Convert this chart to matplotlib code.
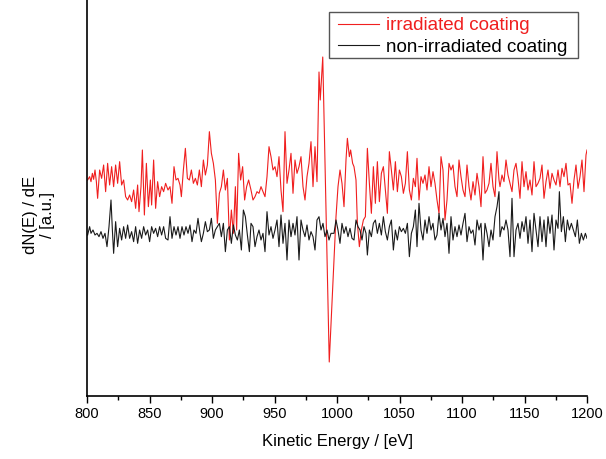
import matplotlib
matplotlib.use("Agg")
import matplotlib.pyplot as plt
from matplotlib.ticker import MultipleLocator
from matplotlib.patches import Rectangle

plt.rcParams['font.family'] = ['Liberation Sans', 'DejaVu Sans']

# ---- data (kinetic energy in eV, intensity in arbitrary units) ----
red_E = [800.5, 802.1, 803.2, 804.3, 805.3, 806.4, 807.5, 808.5, 810.1, 811.7, 813.3, 814.9, 816.5, 818.1, 819.7,
         821.3, 822.9, 824.5, 826.1, 827.7, 829.3, 830.9, 832.5, 834.1, 835.7, 837.3, 838.9, 840.5, 841.6, 843.2,
         844.3, 845.9, 847.5, 849.1, 850.7, 851.7, 853.3, 854.9, 856.5, 858.1, 859.7, 861.3, 862.9,
         864.8, 866.4, 868.0, 869.6, 871.2, 872.8, 874.4, 875.5, 877.1, 878.7, 880.3, 881.9, 883.5, 885.1, 886.7,
         888.3, 889.9, 891.5, 893.1, 894.7, 896.3, 897.9, 899.5, 901.1, 902.7, 904.3, 905.9, 907.5, 909.1, 910.7,
         912.3, 913.9, 915.5, 917.1, 918.7, 919.7, 921.3, 922.9, 924.5, 926.1, 927.7, 929.3,
         931.2, 932.8, 934.4, 936.0, 937.6, 939.2, 940.8, 942.4, 944.0, 945.6, 947.2, 948.8, 950.4, 952.0, 953.6,
         955.2, 956.8, 958.4, 960.0, 961.6, 963.2, 964.8, 966.4, 968.0, 969.6, 971.2, 972.8, 974.4, 976.0, 977.6,
         979.2, 980.8, 982.4, 984.0,
         985.6, 986.6, 988.6, 993.8,
         999.2, 1000.8, 1002.4, 1004.0, 1005.6, 1007.2, 1008.3, 1009.9, 1010.9, 1012.5, 1013.6, 1015.2, 1016.3,
         1017.9, 1019.5, 1021.1, 1022.7, 1024.3, 1025.9, 1027.5, 1029.1, 1030.7, 1032.3, 1033.9, 1035.5, 1037.1,
         1038.7, 1040.3, 1041.9, 1043.5, 1045.1, 1046.7, 1048.3, 1049.9, 1051.5, 1053.1, 1054.7, 1056.3, 1057.9,
         1059.5, 1061.1, 1062.7,
         1064.0, 1065.6, 1067.2, 1068.8, 1070.4, 1072.0, 1073.6, 1075.2, 1076.8, 1078.4, 1080.0, 1081.6, 1083.2,
         1084.8, 1086.4, 1088.0, 1089.6, 1091.2, 1092.8, 1094.4, 1096.0, 1097.6, 1099.2, 1100.8, 1102.4, 1104.0,
         1105.6, 1107.2, 1108.8, 1110.4, 1112.0, 1113.6, 1115.2, 1116.8, 1118.4, 1120.0, 1121.6, 1123.2, 1124.8,
         1126.4, 1128.0, 1129.6,
         1130.4, 1132.0, 1133.6, 1135.2, 1136.8, 1138.4, 1140.0, 1141.6, 1143.2, 1144.8, 1146.4, 1148.0, 1149.6,
         1151.2, 1152.8, 1154.4, 1156.0, 1157.6, 1159.2, 1160.8, 1162.4, 1164.0, 1165.6, 1167.2, 1168.8, 1170.4,
         1172.0, 1173.6, 1175.2, 1176.8, 1178.4, 1180.0, 1181.6, 1183.2, 1184.8, 1186.4, 1188.0, 1189.6, 1191.2,
         1192.8, 1194.4, 1196.0, 1197.6, 1199.2, 1200.0]
red_I = [648, 658, 643, 668, 650, 678, 643, 593, 678, 653, 693, 613, 698, 633, 688,
         628, 693, 638, 703, 633, 648, 598, 588, 603, 583, 618, 563, 633, 553, 628,
         738, 543, 698, 568, 648, 573, 708, 563, 643, 598, 628, 613, 638,
         618, 628, 578, 688, 648, 653, 633, 598, 678, 743, 653, 648, 678, 638, 653,
         633, 678, 628, 708, 663, 693, 793, 728, 698, 648, 518, 608, 628, 678, 618,
         653, 468, 558, 488, 628, 498, 728, 648, 688, 588, 628, 648,
         618, 588, 598, 613, 608, 628, 613, 598, 658, 748, 718, 678, 688, 658, 718,
         618, 553, 793, 638, 678, 728, 608, 708, 668, 688, 718, 628, 588, 658, 698,
         763, 628, 748, 643,
         972, 888, 1017, 102,
         538, 628, 678, 638, 568, 708, 773, 718, 738, 698, 688, 648, 518,
         448, 498, 528, 538, 743, 638, 548, 688, 578, 703, 583, 668, 688,
         618, 548, 733, 678, 618, 703, 613, 678, 658, 608, 638, 733, 618,
         588, 653, 628,
         713, 588, 658, 638, 663, 618, 688, 628, 673, 638, 588, 548, 718,
         678, 528, 588, 698, 678, 693, 628, 598, 708, 658, 618, 598, 693,
         628, 588, 643, 603, 668, 628, 568, 718, 608, 618, 638, 698, 628,
         598, 733, 648,
         628, 663, 643, 708, 663, 638, 613, 678, 698, 653, 593, 703, 628,
         673, 618, 648, 603, 703, 628, 638, 653, 693, 593, 643, 678, 623,
         668, 648, 633, 678, 628, 683, 658, 698, 633, 638, 578, 648, 693,
         623, 658, 708, 613, 723, 738]

black_E = [800.5, 802.1, 803.2, 804.8, 806.4, 808.0, 809.6, 811.2, 812.8, 814.4, 816.0, 817.6, 819.2, 820.3,
           821.3, 822.9, 824.5, 826.1, 827.7, 829.3, 830.9, 832.5, 834.1, 835.7, 837.3, 838.9, 840.5, 842.1,
           843.7, 845.3, 846.9, 848.5, 850.1, 851.7, 853.3, 854.9, 856.5, 858.1, 859.7, 861.3, 862.9,
           864.8, 866.4, 868.0, 869.6, 871.2, 872.8, 874.4, 876.0, 877.6, 879.2, 880.8, 882.4, 884.0, 885.6,
           887.2, 888.8, 890.4, 891.5, 893.1, 894.7, 896.3, 897.9, 899.5, 901.1, 902.7, 904.3, 905.9, 907.5,
           909.1, 910.7, 912.3, 913.9, 915.5, 917.1, 918.7, 920.3, 921.9, 923.5, 925.1, 926.7, 928.3, 929.9,
           931.2, 932.8, 934.4, 936.0, 937.6, 939.2, 940.8, 942.4, 944.0, 945.6, 947.2, 948.8, 950.4, 952.0,
           953.6, 955.2, 956.8, 958.4, 960.0, 961.6, 963.2, 964.8, 966.4, 968.0, 969.6, 971.2, 972.8, 974.4,
           976.0, 977.6, 979.2, 980.8, 982.4, 984.0, 985.6, 987.2, 988.8, 990.4, 992.0, 993.6, 995.2,
           997.6, 999.2, 1000.8, 1002.4, 1004.0, 1005.6, 1007.2, 1008.8, 1010.4, 1012.0, 1013.6, 1015.2, 1016.8,
           1018.4, 1020.0, 1021.6, 1023.2, 1024.3, 1025.9, 1027.5, 1029.1, 1030.7, 1032.3, 1033.9, 1035.5,
           1037.1, 1038.7, 1040.3, 1041.9, 1043.5, 1045.1, 1046.7, 1048.3, 1049.9, 1051.5, 1053.1, 1054.7,
           1056.3, 1057.9, 1059.5, 1061.1, 1062.7,
           1064.0, 1065.6, 1067.2, 1068.8, 1070.4, 1072.0, 1073.6, 1075.2, 1076.8, 1078.4, 1080.0, 1081.6,
           1083.2, 1084.8, 1086.4, 1088.0, 1089.6, 1091.2, 1092.8, 1094.4, 1096.0, 1097.6, 1099.2, 1100.8,
           1102.4, 1104.0, 1105.6, 1107.2, 1108.8, 1110.4, 1112.0, 1113.6, 1115.2, 1116.8, 1118.4, 1120.0,
           1121.6, 1123.2, 1124.8, 1126.4, 1128.0, 1129.6,
           1130.4, 1132.0, 1133.6, 1135.2, 1136.8, 1138.4, 1140.0, 1141.6, 1143.2, 1144.8, 1146.4, 1148.0,
           1149.6, 1151.2, 1152.8, 1154.4, 1156.0, 1157.6, 1159.2, 1160.8, 1162.4, 1164.0, 1165.6, 1167.2,
           1168.8, 1170.4, 1172.0, 1173.6, 1175.2, 1176.8, 1177.9, 1179.5, 1181.1, 1182.7, 1184.3, 1185.9,
           1187.5, 1189.1, 1190.7, 1192.3, 1193.9, 1195.5, 1197.1, 1198.7, 1200.0]
black_I = [483, 508, 488, 498, 483, 488, 478, 493, 473, 488, 448, 508, 588, 498,
           428, 523, 448, 503, 468, 508, 473, 513, 473, 493, 463, 508, 458, 498,
           473, 508, 483, 498, 463, 508, 488, 503, 478, 508, 483, 508, 473,
           468, 538, 473, 508, 483, 508, 473, 508, 483, 508, 488, 513, 463, 498,
           488, 533, 488, 463, 488, 523, 493, 498, 533, 473, 498, 508, 518, 478,
           518, 433, 498, 508, 458, 513, 483, 468, 498, 438, 558, 538, 483, 433,
           518, 508, 448, 478, 498, 468, 488, 433, 553, 483, 508, 473, 498, 528,
           448, 543, 458, 518, 408, 528, 478, 518, 483, 538, 408, 528, 498, 478,
           513, 468, 493, 478, 438, 528, 538, 498, 518, 478, 498, 468, 488,
           488, 528, 498, 458, 518, 488, 508, 478, 503, 473, 468, 528, 508,
           498, 468, 508, 488, 423, 498, 478, 518, 528, 488, 518, 483,
           538, 493, 468, 508, 528, 438, 498, 468, 508, 493, 503, 488,
           518, 418, 488, 508, 558,
           448, 578, 498, 468, 528, 488, 538, 498, 518, 468, 483, 548,
           498, 533, 478, 518, 428, 538, 468, 508, 478, 513, 483, 518,
           548, 463, 508, 488, 498, 453, 528, 498, 518, 408, 518, 488,
           448, 498, 468, 538, 568, 613,
           478, 508, 498, 528, 498, 418, 593, 418, 498, 518, 473, 523,
           493, 538, 458, 528, 433, 548, 498, 448, 538, 463, 528, 448,
           538, 488, 543, 438, 528, 503, 613, 493, 538, 463, 528, 498,
           518, 498, 478, 528, 458, 488, 468, 488, 473]

labels = ["irradiated coating", "non-irradiated coating"]
x_ticks = [800, 850, 900, 950, 1000, 1050, 1100, 1150, 1200]

RED = '#f01f1f'

# ---- figure ----
fig = plt.figure(figsize=(6.06, 4.59), dpi=100)
ax = fig.add_axes([87 / 606, 63 / 459, 500 / 606, 396 / 459])

ax.plot(red_E, red_I, color=RED, lw=0.8, label=labels[0])
ax.plot(black_E, black_I, color='#1a1a1a', lw=0.8, label=labels[1])

ax.set_xlim(800, 1200)
ax.set_ylim(0, 1188)
ax.set_xticks(x_ticks)
ax.set_xticklabels([str(t) for t in x_ticks], fontsize=10.5)
ax.xaxis.set_minor_locator(MultipleLocator(25))
ax.tick_params(axis='x', which='major', direction='out', length=5, width=1, pad=3)
ax.tick_params(axis='x', which='minor', direction='out', length=3, width=1)
ax.set_yticks([])

for s in ['top', 'right']:
    ax.spines[s].set_visible(False)
for s in ['left', 'bottom']:
    ax.spines[s].set_linewidth(1.2)

ax.set_xlabel("Kinetic Energy / [eV]", fontsize=12, labelpad=9)
fig.text(39 / 606, 1 - 215 / 459, "dN(E) / dE\n/ [a.u.]", rotation=90,
         ha='center', va='center', multialignment='center', fontsize=12, linespacing=1.1)

# legend box (frame drawn separately to match the reference padding)
frame = Rectangle(((329 - 87) / 500, (396 - 58) / 396), (578 - 329) / 500, 46 / 396,
                  transform=ax.transAxes, facecolor='white', edgecolor='#555555',
                  linewidth=1.0, zorder=4, clip_on=False)
ax.add_patch(frame)
leg = ax.legend(loc='upper left', bbox_to_anchor=((338 - 87) / 500, (396 - 17) / 396),
                borderaxespad=0, frameon=False, fontsize=13.5, handlelength=2.2,
                handletextpad=0.35, borderpad=0.0, labelspacing=0.25)
leg.set_zorder(5)
text_colors = [RED, 'black']
for txt, c in zip(leg.get_texts(), text_colors):
    txt.set_color(c)

fig.savefig("out.png", dpi=100)
